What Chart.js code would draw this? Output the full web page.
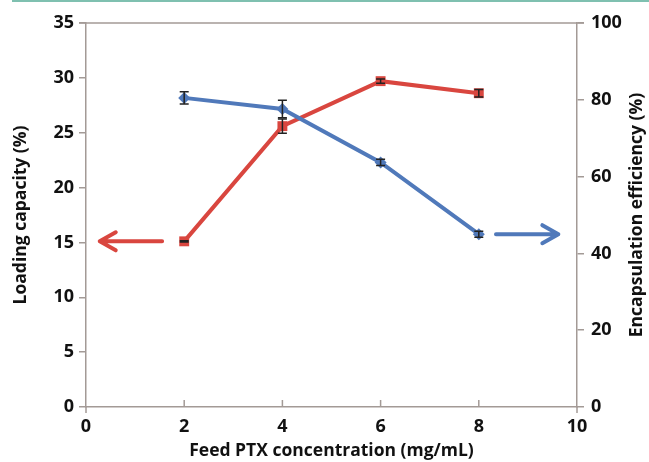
<!DOCTYPE html>
<html>
<head>
<meta charset="utf-8">
<script src="https://cdn.jsdelivr.net/npm/chart.js@4.4.0/dist/chart.umd.min.js"></script>
<style>
  body { margin: 0; background: #fff; }
  .topline { position: absolute; left: 12px; right: 0; top: 0; height: 2px; background: #7fc0b0; }
  .wrap { position: relative; width: 649px; height: 462px; }
</style>
</head>
<body>
<div class="wrap">
  <div class="topline"></div>
  <canvas id="myChart" width="649" height="462"></canvas>
</div>
<script>
// feed PTX concentration (mg/mL)
const concentrations = [2, 4, 6, 8];
// loading capacity (%) - left axis
const loadingCapacity = [15.1, 25.6, 29.7, 28.6];
const loadingErr = [0.05, 0.65, 0.2, 0.35];
// encapsulation efficiency (%) - right axis
const encapEfficiency = [80.5, 77.6, 63.7, 45.0];
const encapErr = [1.6, 2.3, 0.8, 0.8];

// arrows pointing at the axis each series belongs to [fromX, toX]
const redArrowX = [1.55, 0.28];
const blueArrowX = [8.35, 9.62];

const red = '#d9463f';
const blue = '#5079ba';
const axisColor = '#a39a96';
const titleFont = { family: 'Open Sans', weight: 'bold', size: 17.5 };
const tickFont = { family: 'Open Sans', weight: 'bold', size: 18 };
const rightTitle = 'Encapsulation efficiency (%)';

const toPoints = (xs, ys) => xs.map((x, i) => ({ x: x, y: ys[i] }));

const extras = {
  id: 'extras',
  afterDatasetsDraw(chart) {
    const c = chart.ctx;
    const xs = chart.scales.x, yl = chart.scales.y, yr = chart.scales.y1;
    const area = chart.chartArea;

    // top frame line
    c.save();
    c.strokeStyle = axisColor;
    c.lineWidth = 1.5;
    c.beginPath();
    c.moveTo(area.left - 7, area.top);
    c.lineTo(area.right + 7, area.top);
    c.stroke();

    // inner ticks on x axis
    [2, 4, 6, 8].forEach(v => {
      const px = xs.getPixelForValue(v);
      c.beginPath();
      c.moveTo(px, area.bottom);
      c.lineTo(px, area.bottom - 7);
      c.stroke();
    });
    [0, 10].forEach(v => {
      const px = xs.getPixelForValue(v);
      c.beginPath();
      c.moveTo(px, area.bottom);
      c.lineTo(px, area.bottom + 6);
      c.stroke();
    });

    // error bars
    c.strokeStyle = '#222';
    c.lineWidth = 1.5;
    const bars = (ys, errs, scale) => {
      concentrations.forEach((x, i) => {
        const px = xs.getPixelForValue(x);
        const top = scale.getPixelForValue(ys[i] + errs[i]);
        const bot = scale.getPixelForValue(ys[i] - errs[i]);
        c.beginPath();
        c.moveTo(px, top); c.lineTo(px, bot);
        c.moveTo(px - 4.5, top); c.lineTo(px + 4.5, top);
        c.moveTo(px - 4.5, bot); c.lineTo(px + 4.5, bot);
        c.stroke();
      });
    };
    bars(loadingCapacity, loadingErr, yl);
    bars(encapEfficiency, encapErr, yr);

    // arrows
    const arrow = (fx, tx, y, color) => {
      const x1 = xs.getPixelForValue(fx), x2 = xs.getPixelForValue(tx);
      const dir = x2 > x1 ? 1 : -1;
      c.strokeStyle = color;
      c.lineWidth = 4;
      c.lineCap = 'round';
      c.lineJoin = 'round';
      c.beginPath();
      c.moveTo(x1, y); c.lineTo(x2, y);
      c.moveTo(x2 - dir * 16, y - 9); c.lineTo(x2, y); c.lineTo(x2 - dir * 16, y + 9);
      c.stroke();
    };
    arrow(redArrowX[0], redArrowX[1], yl.getPixelForValue(loadingCapacity[0]), red);
    arrow(blueArrowX[0], blueArrowX[1], yr.getPixelForValue(encapEfficiency[3]), blue);

    // right axis title, reads bottom to top like the left one
    c.translate(637, (area.top + area.bottom) / 2);
    c.rotate(-Math.PI / 2);
    c.fillStyle = '#111';
    c.font = 'bold ' + titleFont.size + 'px "Open Sans"';
    c.textAlign = 'center';
    c.textBaseline = 'middle';
    c.fillText(rightTitle, 0, 0);
    c.restore();
  }
};

new Chart(document.getElementById('myChart'), {
  type: 'line',
  data: {
    datasets: [{
      label: 'Loading capacity',
      data: toPoints(concentrations, loadingCapacity),
      yAxisID: 'y',
      borderColor: red,
      backgroundColor: red,
      borderWidth: 4,
      pointStyle: 'rect',
      pointRadius: 7,
      pointBorderWidth: 0,
      order: 1
    }, {
      label: 'Encapsulation efficiency',
      data: toPoints(concentrations, encapEfficiency),
      yAxisID: 'y1',
      borderColor: blue,
      backgroundColor: blue,
      borderWidth: 4,
      pointStyle: 'rectRot',
      pointRadius: 6,
      pointBorderWidth: 0,
      order: 0
    }]
  },
  options: {
    responsive: false,
    animation: false,
    layout: { padding: { top: 23, left: 0, right: 0, bottom: 0 } },
    plugins: { legend: { display: false }, tooltip: { enabled: false } },
    scales: {
      x: {
        type: 'linear',
        min: 0, max: 10,
        ticks: { stepSize: 2, color: '#111', font: tickFont, padding: 9 },
        grid: { display: false, drawTicks: false },
        border: { color: axisColor, width: 1.5 },
        title: { display: true, text: 'Feed PTX concentration (mg/mL)', color: '#111', font: titleFont, padding: 0 },
        afterFit: s => { s.height = 55; }
      },
      y: {
        position: 'left',
        min: 0, max: 35,
        ticks: { stepSize: 5, color: '#111', font: tickFont, padding: 5 },
        grid: { drawOnChartArea: false, color: axisColor, lineWidth: 1.5, tickLength: 7 },
        border: { color: axisColor, width: 1.5 },
        title: { display: true, text: 'Loading capacity (%)', color: '#111', font: titleFont, padding: { top: 11, bottom: 0 } },
        afterFit: s => { s.width = 86; }
      },
      y1: {
        position: 'right',
        min: 0, max: 100,
        ticks: { stepSize: 20, color: '#111', font: tickFont, padding: 7 },
        grid: { drawOnChartArea: false, color: axisColor, lineWidth: 1.5, tickLength: 7 },
        border: { color: axisColor, width: 1.5 },
        afterFit: s => { s.width = 72; }
      }
    }
  },
  plugins: [extras]
});
</script>
</body>
</html>
